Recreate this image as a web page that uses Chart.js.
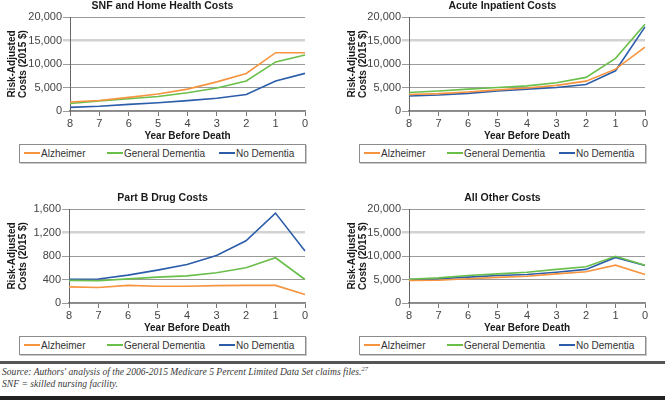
<!DOCTYPE html>
<html><head><meta charset="utf-8">
<script src="https://cdn.jsdelivr.net/npm/chart.js@4.4.1/dist/chart.umd.min.js"></script>
<style>
html,body{margin:0;padding:0;background:#fff;}
body{width:665px;height:400px;position:relative;overflow:hidden;font-family:'Liberation Sans',Arial,sans-serif;}
canvas{position:absolute;}
.legend{position:absolute;box-sizing:border-box;width:287px;height:19px;border:1px solid #8c8c8c;box-shadow:1px 1px 0 #c8c8c8;background:#fff;}
.item{position:absolute;top:0;height:17px;line-height:17px;font-size:10px;color:#333;white-space:nowrap;}
.item .ln{display:inline-block;width:16px;height:2px;vertical-align:middle;margin-right:1px;position:relative;top:-1px;}
.foot{position:absolute;left:2px;font-family:'Liberation Serif','Times New Roman',serif;font-style:italic;font-size:9.6px;color:#3a3a3a;line-height:12px;white-space:nowrap;}
.foot sup{font-size:6.5px;line-height:0;vertical-align:4px;}
</style>
</head><body>
<div style="position:absolute;left:0;top:361px;width:665px;height:3px;background:#555"></div>
<div class="foot" style="top:366px">Source: Authors' analysis of the 2006-2015 Medicare 5 Percent Limited Data Set claims files.<sup>27</sup></div>
<div class="foot" style="top:378px">SNF = skilled nursing facility.</div>
<div style="position:absolute;left:0;top:396px;width:665px;height:4px;background:#222"></div>
<script>
const years = ['8','7','6','5','4','3','2','1','0'];
const seriesNames = ['Alzheimer','General Dementia','No Dementia'];
const seriesColors = ['#F7943F','#6ABF4B','#2C5DAA'];

const snfAlzheimer = [1900,2250,2900,3600,4650,6200,8000,12400,12400];
const snfGeneral   = [1600,2150,2600,3100,3900,4900,6400,10450,11900];
const snfNone      = [780,1000,1400,1750,2200,2700,3500,6400,8000];

const acuteAlzheimer = [3500,3700,4050,4500,4900,5450,6350,8900,13600];
const acuteGeneral   = [3950,4250,4650,5000,5350,6000,7150,11200,18450];
const acuteNone      = [3200,3400,3750,4250,4650,5000,5650,8550,17900];

const partBAlzheimer = [275,265,300,285,285,295,300,300,145];
const partBGeneral   = [385,380,410,440,462,515,600,770,400];
const partBNone      = [405,408,475,560,655,810,1060,1530,885];

const otherAlzheimer = [4800,4850,5150,5450,5700,6200,6650,8050,6050];
const otherGeneral   = [5050,5350,5850,6200,6550,7150,7700,9950,8050];
const otherNone      = [5000,5150,5500,5850,6050,6550,7150,9700,8000];

const costTicks = [0,5000,10000,15000,20000];
const drugTicks = [0,400,800,1200,1600];

const F = "'Liberation Sans', Arial, sans-serif";

const panels = [
  {title:'SNF and Home Health Costs', series:[snfAlzheimer,snfGeneral,snfNone], ticks:costTicks, left:0, top:-3, yw:70, legL:19, legT:144},
  {title:'Acute Inpatient Costs', series:[acuteAlzheimer,acuteGeneral,acuteNone], ticks:costTicks, left:340, top:-3, yw:69, legL:359, legT:144},
  {title:'Part B Drug Costs', series:[partBAlzheimer,partBGeneral,partBNone], ticks:drugTicks, left:0, top:189, yw:69, legL:19, legT:336},
  {title:'All Other Costs', series:[otherAlzheimer,otherGeneral,otherNone], ticks:costTicks, left:340, top:189, yw:69, legL:359, legT:336}
];

const legendOffsets = [4, 87, 199];

panels.forEach((p) => {
  const cv = document.createElement('canvas');
  cv.width = 325; cv.height = 145;
  cv.style.left = p.left + 'px'; cv.style.top = p.top + 'px';
  cv.style.width = '325px'; cv.style.height = '145px';
  document.body.appendChild(cv);
  const tickArr = p.ticks;
  const lightVal = tickArr[tickArr.length - 2];
  const chart = new Chart(cv.getContext('2d'), {
    type: 'line',
    data: {
      labels: years,
      datasets: p.series.map((s, i) => ({
        label: seriesNames[i], data: s, borderColor: seriesColors[i], backgroundColor: seriesColors[i],
        borderWidth: 1.6, pointRadius: 0, tension: 0, fill: false
      }))
    },
    options: {
      responsive: false, animation: false, devicePixelRatio: 1,
      layout: {padding: 0},
      plugins: {
        legend: {display: false}, tooltip: {enabled: false},
        title: {display: true, text: p.title, color: '#1a1a1a',
          font: {family: F, size: 10.5, weight: 'bold', lineHeight: 1.2}, padding: {top: 2.6, bottom: 4.8}}
      },
      scales: {
        x: {
          type: 'category', offset: false,
          grid: {drawOnChartArea: false, drawTicks: true, tickLength: 5, color: '#777', tickWidth: 1},
          border: {color: '#888', width: 1.5},
          ticks: {color: '#444', font: {family: F, size: 11}, padding: 1, maxRotation: 0, autoSkip: false},
          title: {display: true, text: 'Year Before Death', color: '#1a1a1a',
            font: {family: F, size: 10, weight: 'bold', lineHeight: 1.2}, padding: 0},
          afterFit: (s) => { s.height = 31; }
        },
        y: {
          type: 'linear', min: tickArr[0], max: tickArr[tickArr.length - 1],
          grid: {
            color: (c) => (c.tick && c.tick.value === lightVal) ? '#d2d2d2' : '#9a9a9a',
            lineWidth: (c) => (c.tick && c.tick.value === lightVal) ? 2.5 : 1,
            tickLength: 7
          },
          border: {color: '#666', width: 1},
          ticks: {color: '#444', font: {family: F, size: 11}, padding: 1,
            callback: (v) => Number(v).toLocaleString('en-US')},
          title: {display: true, text: ['Risk-Adjusted', 'Costs (2015 $)'], color: '#1a1a1a',
            font: {family: F, size: 10, weight: 'bold', lineHeight: 1.1}, padding: {top: 6.5, bottom: 0}},
          afterBuildTicks: (s) => { s.ticks = tickArr.map(v => ({value: v})); },
          afterFit: (s) => { s.width = p.yw; }
        },
        yR: {
          type: 'linear', position: 'right', display: true,
          grid: {display: false}, border: {display: false}, ticks: {display: false},
          afterFit: (s) => { s.width = 20; }
        }
      }
    }
  });
  const leg = document.createElement('div');
  leg.className = 'legend';
  leg.style.left = p.legL + 'px'; leg.style.top = p.legT + 'px';
  chart.data.datasets.forEach((ds, i) => {
    const it = document.createElement('div');
    it.className = 'item';
    it.style.left = legendOffsets[i] + 'px';
    const ln = document.createElement('span');
    ln.className = 'ln'; ln.style.background = ds.borderColor;
    it.appendChild(ln);
    it.appendChild(document.createTextNode(ds.label));
    leg.appendChild(it);
  });
  document.body.appendChild(leg);
});
</script>
</body></html>
